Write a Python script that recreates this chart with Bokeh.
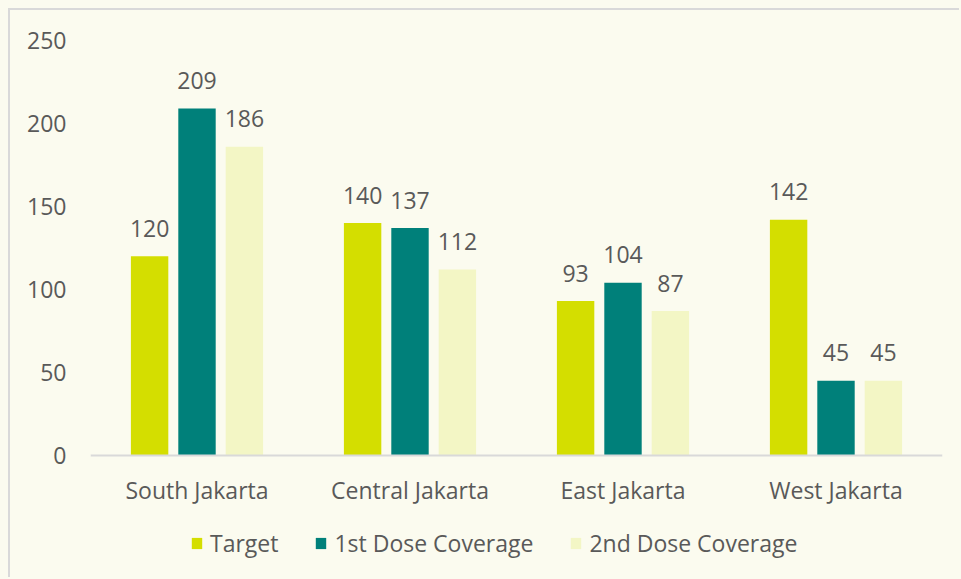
from bokeh.plotting import figure
from bokeh.models import ColumnDataSource, FactorRange, Range1d, Legend, LegendItem
from bokeh.transform import dodge
from bokeh.core.properties import value
from bokeh.embed import file_html
from bokeh.resources import INLINE

categories = ["South Jakarta", "Central Jakarta", "East Jakarta", "West Jakarta"]
target = [120, 140, 93, 142]
first_dose = [209, 137, 104, 45]
second_dose = [186, 112, 87, 45]
series_names = ["Target", "1st Dose Coverage", "2nd Dose Coverage"]
y_ticks = [0, 50, 100, 150, 200, 250]

BG = "#fbfbef"
TXT = "#595959"
FONT = "Open Sans"
FS = "23px"
colors = ["#d4de00", "#00807a", "#f3f6c5"]

src = ColumnDataSource(dict(cat=categories, t=target, f=first_dose, s=second_dose,
                            tl=[str(v) for v in target], fl=[str(v) for v in first_dose],
                            sl=[str(v) for v in second_dose]))

# frame spans from the top of the value axis down to the bottom of the canvas,
# so the legend below the category axis is not clipped
p = figure(x_range=FactorRange(*categories), y_range=Range1d(-124 / 1.66, 250),
           width=951, height=569, output_backend="svg", toolbar_location=None,
           min_border_left=80, min_border_right=19, min_border_top=30, min_border_bottom=0)
p.background_fill_color = BG
p.border_fill_color = BG
p.outline_line_color = None
p.xgrid.grid_line_color = None
p.ygrid.grid_line_color = None

offsets = [-0.2225, 0.0, 0.2225]
fields = ["t", "f", "s"]
lfields = ["tl", "fl", "sl"]
renderers = []
for off, fld, lf, c in zip(offsets, fields, lfields, colors):
    r = p.vbar(x=dodge("cat", off, range=p.x_range), top=fld, width=0.1756, source=src,
               fill_color=c, line_color=None)
    renderers.append(r)
    p.text(x=dodge("cat", off, range=p.x_range), y=fld, text=lf, source=src,
           text_align="center", text_baseline="alphabetic", y_offset=-28,
           text_font=value(FONT), text_font_size=FS, text_color=TXT)

p.yaxis.ticker = y_ticks
p.yaxis.axis_line_color = None
p.yaxis.major_tick_line_color = None
p.yaxis.minor_tick_line_color = None
p.yaxis.major_label_standoff = 18
p.yaxis.major_label_text_font = FONT
p.yaxis.major_label_text_font_size = FS
p.yaxis.major_label_text_color = TXT

p.xaxis.fixed_location = 0
p.xaxis.axis_line_color = "#d9d9d9"
p.xaxis.axis_line_width = 2
p.xaxis.major_tick_line_color = None
p.xaxis.minor_tick_line_color = None
p.xaxis.major_label_standoff = 12
p.xaxis.major_label_text_font = FONT
p.xaxis.major_label_text_font_size = FS
p.xaxis.major_label_text_color = TXT

legend = Legend(items=[LegendItem(label=n, renderers=[r]) for n, r in zip(series_names, renderers)],
                orientation="horizontal", location=(100, 20),
                glyph_width=13, glyph_height=14, label_standoff=7, spacing=36,
                label_text_font=FONT, label_text_font_size=FS, label_text_color=TXT,
                background_fill_alpha=0, border_line_color=None,
                margin=0, padding=0)
p.add_layout(legend)

p.styles = {"margin-left": "8px", "margin-top": "8px",
            "border-top": "2px solid #d9d9d9", "border-left": "2px solid #d9d9d9"}

html = file_html(p, INLINE)
page_css = "<style>html, body { background-color: %s !important; overflow: hidden; }</style>" % BG
html = html.replace("</head>", page_css + "</head>", 1)
open("out.html", "w").write(html)
